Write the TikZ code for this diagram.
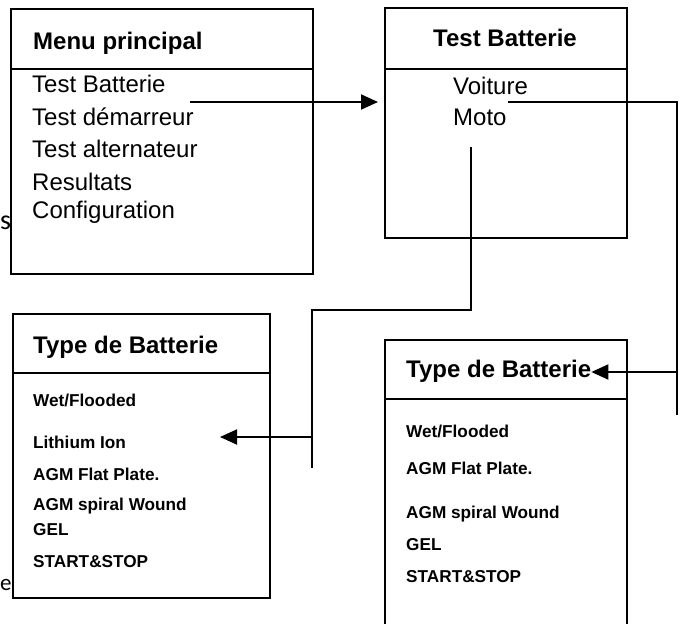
\documentclass[tikz,border=0pt]{standalone}
\usepackage{fontspec}
\setmainfont{Liberation Sans}
\newfontfamily\fragfont{Carlito}
\usetikzlibrary{arrows.meta}

\tikzset{
  panel/.style={draw=black, line width=1.9pt, inner sep=0pt, anchor=north west},
  heading/.style={anchor=base west, inner sep=0pt, font=\fontsize{24}{28}\selectfont\bfseries},
  entry/.style={anchor=base west, inner sep=0pt, font=\fontsize{24}{28}\selectfont},
  subentry/.style={anchor=base west, inner sep=0pt, font=\fontsize{17.2}{20}\selectfont\bfseries},
  fragment/.style={anchor=base west, inner sep=0pt, font=\fragfont\fontsize{28}{30}\selectfont},
  wire/.style={black, line width=1.9pt},
  link/.style={wire, -{Triangle[length=17pt,width=15pt]}}
}

\begin{document}
\begin{tikzpicture}[x=1pt,y=1pt]
\useasboundingbox (0,0) rectangle (679,-623);

% main menu
\node [panel, minimum width=302pt, minimum height=265pt] (menu) at (10,-8) {};
\draw [wire] (10,-69) -- (312,-69);
\node [heading] (menutitle) at (33,-50) {Menu principal};
\node [entry] (mbatt) at (32,-93) {Test Batterie};
\node [entry] (mdem) at (32,-125) {Test démarreur};
\node [entry] (malt) at (32,-157) {Test alternateur};
\node [entry] (mres) at (32,-190) {Resultats};
\node [entry] (mconf) at (32,-218) {Configuration};
\node [fragment] (frags) at (0,-229) {s};

% battery test menu
\node [panel, minimum width=242pt, minimum height=230pt] (tbatt) at (384,-7) {};
\draw [wire] (384,-69) -- (626,-69);
\node [heading, anchor=base] (tbtitle) at (505,-47) {Test Batterie};
\node [entry] (voiture) at (453,-95) {Voiture};
\node [entry] (moto) at (453,-125) {Moto};

% battery type, moto
\node [panel, minimum width=257pt, minimum height=284pt] (typel) at (12,-313) {};
\draw [wire] (12,-373) -- (269,-373);
\node [heading] (ltitle) at (33,-353) {Type de Batterie};
\node [subentry] (l1) at (33,-406) {Wet/Flooded};
\node [subentry] (l2) at (33,-448) {Lithium Ion};
\node [subentry] (l3) at (33,-480) {AGM Flat Plate.};
\node [subentry] (l4) at (33,-510) {AGM spiral Wound};
\node [subentry] (l5) at (33,-535) {GEL};
\node [subentry] (l6) at (33,-567) {START\&STOP};
\node [fragment, font=\fragfont\fontsize{23}{26}\selectfont] (frage) at (0,-590) {e};

% battery type, voiture
\node [panel, minimum width=242pt, minimum height=300pt] (typer) at (384,-339) {};
\draw [wire] (384,-399) -- (626,-399);
\node [heading] (rtitle) at (406,-377) {Type de Batterie};
\node [subentry] (r1) at (406,-437) {Wet/Flooded};
\node [subentry] (r2) at (406,-474) {AGM Flat Plate.};
\node [subentry] (r3) at (406,-518) {AGM spiral Wound};
\node [subentry] (r4) at (406,-550) {GEL};
\node [subentry] (r5) at (406,-582) {START\&STOP};

% connectors
\coordinate (mout) at (190,-102);
\draw [link, shorten >=6pt] (mout) -- (tbatt.west |- mout);

\coordinate (vout) at (508,-102);
\coordinate (vturn) at (677,-102);
\coordinate (vend) at (677,-415);
\coordinate (vjoin) at (677,-372);
\draw [wire] (vout) -- (vturn) -- (vend);
\draw [link] (vjoin) -- (rtitle.east |- vjoin);

\coordinate (motoout) at (471,-147);
\coordinate (mturn) at (471,-310);
\coordinate (mdrop) at (312,-310);
\coordinate (mend) at (312,-468);
\coordinate (mjoin) at (312,-437);
\coordinate (ltip) at (220,-437);
\draw [wire] (motoout) -- (mturn) -- (mdrop) -- (mend);
\draw [link] (mjoin) -- (ltip);
\end{tikzpicture}
\end{document}
